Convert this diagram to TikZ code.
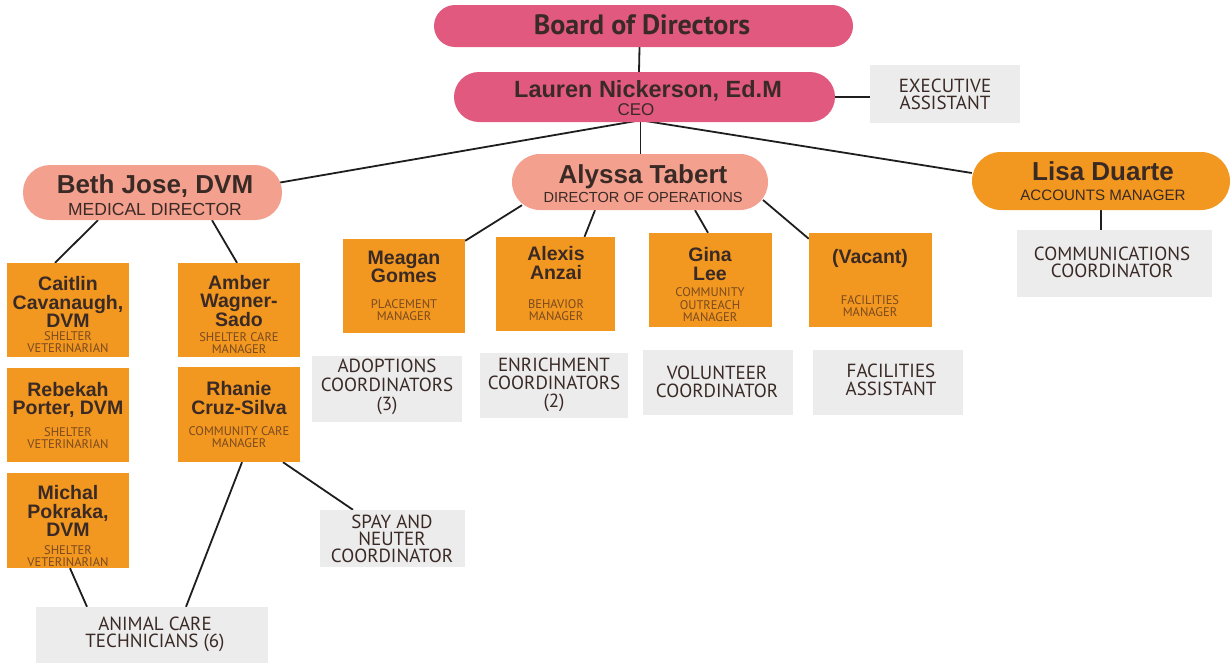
\documentclass[tikz,border=0pt]{standalone}
\usepackage{fontspec}
\setmainfont{PT Sans}
\newfontfamily\arial{Liberation Sans}
\usetikzlibrary{calc}
\pgfdeclarelayer{bg}
\pgfsetlayers{bg,main}
\definecolor{cpink}{HTML}{E2597F}
\definecolor{csalmon}{HTML}{F4A08E}
\definecolor{corange}{HTML}{F2971F}
\definecolor{cgray}{HTML}{ECECEC}
\definecolor{ctext}{HTML}{3A2A26}
\definecolor{ctitle}{HTML}{7A4A20}
\definecolor{cline}{HTML}{1E1E1E}
\begin{document}
\begin{tikzpicture}[x=1pt,y=-1pt,
  pill/.style={rounded corners=#1, inner sep=0pt},
  obox/.style={fill=corange, minimum width=122pt, minimum height=94pt, inner sep=0pt},
  gbox/.style={fill=cgray, inner sep=0pt},
  bignm/.style={anchor=base, text=ctext, inner sep=0pt, font=\arial\fontsize{26}{26}\selectfont\bfseries},
  bigttl/.style={anchor=base, text=ctext, inner sep=0pt, font=\arial\fontsize{17}{17}\selectfont},
  nm/.style={text=ctext, align=center, inner sep=0pt, font=\arial\fontsize{19.5}{18.5}\selectfont\bfseries},
  ttl/.style={text=ctitle, align=center, inner sep=0pt, font=\fontsize{12.5}{12.5}\selectfont},
  gt/.style={text=ctext, align=center, inner sep=0pt, font=\fontsize{19}{18}\selectfont},
  conn/.style={draw=cline, line width=1.8pt}]
\useasboundingbox (0,0) rectangle (1231,662);

% top
\node[pill=21pt, fill=cpink, minimum width=419pt, minimum height=42pt] (board) at (643.5,26) {};
\node[anchor=base, text=ctext, inner sep=0pt, font=\fontsize{28}{28}\selectfont\bfseries] (boardt) at (642,34) {Board of Directors};
\node[pill=25pt, fill=cpink, minimum width=381pt, minimum height=50pt] (ceo) at (644.5,97) {};
\node[bignm, font=\arial\fontsize{23.5}{23.5}\selectfont\bfseries] (ceot) at (648,97) {Lauren Nickerson, Ed.M};
\node[bigttl] (ceott) at (636,115) {CEO};
\node[gbox, minimum width=150pt, minimum height=58pt] (exec) at (945,94) {};
\node[gt, font=\fontsize{19}{17}\selectfont] (exect) at (945,94) {EXECUTIVE\\ASSISTANT};

% second level
\node[pill=27pt, fill=csalmon, minimum width=259pt, minimum height=55pt] (beth) at (152.5,192.5) {};
\node[bignm] (betht) at (155,193) {Beth Jose, DVM};
\node[bigttl, font=\arial\fontsize{17.5}{17.5}\selectfont] (bethtt) at (155,215) {MEDICAL DIRECTOR};
\node[pill=28pt, fill=csalmon, minimum width=256pt, minimum height=56pt] (alyssa) at (640,182) {};
\node[bignm] (alyssat) at (643,183) {Alyssa Tabert};
\node[bigttl, font=\arial\fontsize{14.6}{14.6}\selectfont] (alyssatt) at (643,202) {DIRECTOR OF OPERATIONS};
\node[pill=29pt, fill=corange, minimum width=258pt, minimum height=58pt] (lisa) at (1101,181) {};
\node[bignm] (lisat) at (1103,180) {Lisa Duarte};
\node[bigttl, font=\arial\fontsize{15.1}{15.1}\selectfont] (lisatt) at (1103,200) {ACCOUNTS MANAGER};
\node[gbox, minimum width=195pt, minimum height=67pt] (comm) at (1114.5,263.5) {};
\node[gt, font=\fontsize{19}{17}\selectfont] (commt) at (1112,262) {COMMUNICATIONS\\COORDINATOR};

% medical boxes
\node[obox] (caitlin) at (68,310) {};
\node[nm] (caitlint) at (68,302) {Caitlin\\Cavanaugh,\\DVM};
\node[ttl] (caitlintt) at (68,342) {SHELTER\\VETERINARIAN};
\node[obox] (rebekah) at (68,415) {};
\node[nm] (rebekaht) at (68,400) {Rebekah\\Porter, DVM};
\node[ttl] (rebekahtt) at (68,438) {SHELTER\\VETERINARIAN};
\node[obox, minimum height=95pt] (michal) at (68,520.5) {};
\node[nm] (michalt) at (68,511) {Michal\\Pokraka,\\DVM};
\node[ttl] (michaltt) at (68,556) {SHELTER\\VETERINARIAN};
\node[obox] (amber) at (239,310) {};
\node[nm] (ambert) at (239,301) {Amber\\Wagner-\\Sado};
\node[ttl] (ambertt) at (239,343) {SHELTER CARE\\MANAGER};
\node[obox, minimum height=95pt] (rhanie) at (239,414.5) {};
\node[nm] (rhaniet) at (239,398) {Rhanie\\Cruz-Silva};
\node[ttl] (rhaniett) at (239,437) {COMMUNITY CARE\\MANAGER};

% operations boxes
\node[obox] (meagan) at (404,286) {};
\node[nm] (meagant) at (404,267) {Meagan\\Gomes};
\node[ttl] (meagantt) at (404,310) {PLACEMENT\\MANAGER};
\node[obox, minimum width=119pt] (alexis) at (555.5,284) {};
\node[nm] (alexist) at (556,263) {Alexis\\Anzai};
\node[ttl] (alexistt) at (556,310) {BEHAVIOR\\MANAGER};
\node[obox, minimum width=123pt] (gina) at (710.5,280) {};
\node[nm] (ginat) at (710,264) {Gina\\Lee};
\node[ttl] (ginatt) at (710,305) {COMMUNITY\\OUTREACH\\MANAGER};
\node[obox, minimum width=123pt] (vacant) at (870.5,280) {};
\node[nm] (vacantt) at (870,258) {(Vacant)};
\node[ttl] (vacanttt) at (870,306) {FACILITIES\\MANAGER};

% gray boxes
\node[gbox, minimum width=150pt, minimum height=66pt] (adopt) at (387,389) {};
\node[gt, font=\fontsize{19}{19}\selectfont] (adoptt) at (387,387) {ADOPTIONS\\COORDINATORS\\(3)};
\node[gbox, minimum width=148pt, minimum height=65pt] (enrich) at (554,385.5) {};
\node[gt, font=\fontsize{19}{18}\selectfont] (enricht) at (554,385) {ENRICHMENT\\COORDINATORS\\(2)};
\node[gbox, minimum width=150pt, minimum height=65pt] (vol) at (718,382.5) {};
\node[gt] (volt) at (717,382) {VOLUNTEER\\COORDINATOR};
\node[gbox, minimum width=150pt, minimum height=65pt] (fac) at (888,382.5) {};
\node[gt, font=\fontsize{19}{17.5}\selectfont] (fact) at (891,380) {FACILITIES\\ASSISTANT};
\node[gbox, minimum width=145pt, minimum height=57pt] (spay) at (392.5,538.5) {};
\node[gt, font=\fontsize{19}{17}\selectfont] (spayt) at (392,539) {SPAY AND\\NEUTER\\COORDINATOR};
\node[gbox, minimum width=232pt, minimum height=56pt] (act) at (152,635) {};
\node[gt, font=\fontsize{19}{17}\selectfont] (actt) at (155,634) {ANIMAL CARE\\TECHNICIANS (6)};

\begin{pgfonlayer}{bg}
\fill[white] (0,0) rectangle (1231,662);
\draw[conn] ($(board.south)+(-4,0)$) -- ($(ceo.north)+(-5.5,0)$);
\draw[conn] (ceo.east) -- (ceo.east -| exec.west);
\coordinate (fan) at ($(ceo.south)+(-4,-2)$);
\draw[conn] (fan) -- ($(beth.east)+(-2,-10)$);
\draw[conn] (fan) -- (fan |- alyssa.north);
\draw[conn] (fan) -- ($(lisa.west)+(0,-8)$);
\draw[conn] ($(beth.south)+(-54.5,0)$) -- ($(caitlin.north)+(-13,0)$);
\draw[conn] ($(beth.south)+(59.5,0)$) -- ($(amber.north)+(-2,0)$);
\draw[conn] ($(alyssa.south)+(-118,-5)$) -- ($(meagan.north east)+(0,2)$);
\draw[conn] ($(alyssa.south)+(-45,0)$) -- ($(alexis.north)+(29,0)$);
\draw[conn] ($(alyssa.south)+(55,0)$) -- ($(gina.north)+(-2.5,0)$);
\draw[conn] ($(alyssa.center)+(123,18)$) -- ($(vacant.north west)+(0,6)$);
\draw[conn] ($(meagan.south)+(-2,0)$) -- ($(meagan.south)+(-2,0)$ |- adopt.north);
\draw[conn] ($(alexis.south)+(1.5,0)$) -- ($(alexis.south)+(1.5,0)$ |- enrich.north);
\draw[conn] ($(gina.south)+(4.5,0)$) -- ($(gina.south)+(4.5,0)$ |- vol.north);
\draw[conn] ($(vacant.south)+(2.5,0)$) -- ($(vacant.south)+(2.5,0)$ |- fac.north);
\draw[conn] (lisa.south) -- (lisa.south |- comm.north);
\draw[conn] ($(rhanie.south)+(3,0)$) -- ($(act.north)+(34,0)$);
\draw[conn] ($(rhanie.south)+(44,0)$) -- ($(spay.north)+(-39.5,0)$);
\draw[conn] ($(michal.south)+(2,0)$) -- ($(act.north)+(-65,0)$);
\end{pgfonlayer}
\end{tikzpicture}
\end{document}
